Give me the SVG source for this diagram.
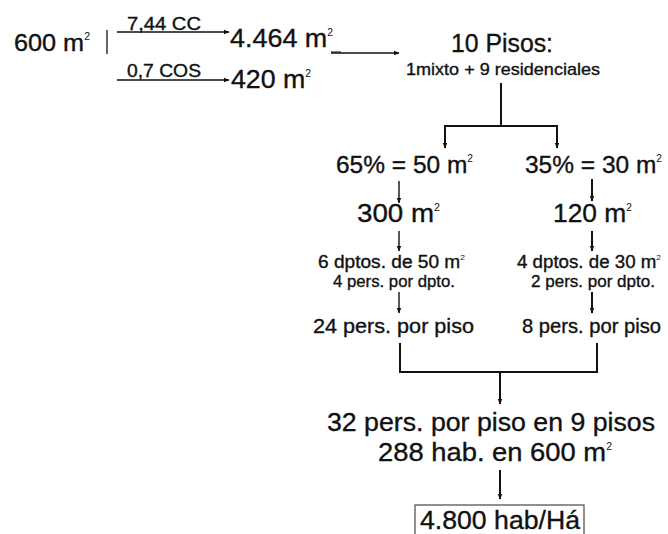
<svg xmlns="http://www.w3.org/2000/svg" width="668" height="534" viewBox="0 0 668 534">
<defs>
<style>
text{font-family:"Liberation Sans",Arial,sans-serif;fill:#111;stroke:#111;stroke-width:0.35}
.big{font-size:26px}
.mid{font-size:18px}
.sm{font-size:17px}
.s{font-size:10px;stroke-width:0}
.ss{font-size:8px;stroke-width:0}
.ln{stroke:#111;stroke-width:2;fill:none}
.thin{stroke:#111;stroke-width:1.4;fill:none}
</style>
<marker id="ah" viewBox="0 0 10 10" refX="9" refY="5" markerWidth="6" markerHeight="6" orient="auto" markerUnits="userSpaceOnUse">
<path d="M0,1 L10,5 L0,9 Z" fill="#111"/>
</marker>
</defs>
<rect width="668" height="534" fill="#fff"/>
<g id="connectors">
<line x1="107" y1="30" x2="107" y2="54" stroke="#666" stroke-width="2"/>
<line class="thin" x1="117" y1="32" x2="229" y2="32" marker-end="url(#ah)"/>
<line class="thin" x1="117" y1="80" x2="229" y2="80" marker-end="url(#ah)"/>
<line x1="331" y1="52" x2="341" y2="52" stroke="#333" stroke-width="1.2"/>
<line class="thin" x1="331" y1="53" x2="399" y2="53" marker-end="url(#ah)"/>
<polyline class="ln" points="501,83 501,126"/>
<polyline class="ln" points="445,140 445,126 557,126 557,140"/>
<line class="ln" x1="445" y1="135" x2="445" y2="148" marker-end="url(#ah)"/>
<line class="ln" x1="557" y1="135" x2="557" y2="148" marker-end="url(#ah)"/>
<line class="thin" x1="399" y1="181" x2="399" y2="203" marker-end="url(#ah)"/>
<line class="ln" x1="592" y1="179" x2="592" y2="201" marker-end="url(#ah)"/>
<line class="thin" x1="399" y1="231" x2="399" y2="251" marker-end="url(#ah)"/>
<line class="ln" x1="592" y1="231" x2="592" y2="251" marker-end="url(#ah)"/>
<line class="thin" x1="399" y1="292" x2="399" y2="313" marker-end="url(#ah)"/>
<line class="ln" x1="592" y1="292" x2="592" y2="313" marker-end="url(#ah)"/>
<polyline class="ln" points="400,343 400,372 597,372 597,343"/>
<line class="ln" x1="500" y1="372" x2="500" y2="404" marker-end="url(#ah)"/>
<line class="ln" x1="500" y1="470" x2="500" y2="499" marker-end="url(#ah)"/>
</g>
<g id="n-600"><text class="big" x="14" y="51" style="font-size:24px" textLength="76" lengthAdjust="spacingAndGlyphs">600 m<tspan class="s" dy="-11">2</tspan></text></g>
<g id="lbl-cc"><text class="mid" x="127" y="30" textLength="74" lengthAdjust="spacingAndGlyphs">7,44 CC</text></g>
<g id="lbl-cos"><text class="mid" x="127" y="77" textLength="74" lengthAdjust="spacingAndGlyphs">0,7 COS</text></g>
<g id="n-4464"><text class="big" x="230" y="47" textLength="103" lengthAdjust="spacingAndGlyphs">4.464 m<tspan class="s" dy="-11">2</tspan></text></g>
<g id="n-420"><text class="big" x="231" y="88" textLength="80" lengthAdjust="spacingAndGlyphs">420 m<tspan class="s" dy="-11">2</tspan></text></g>
<g id="n-pisos"><text class="big" x="451" y="52" textLength="102" lengthAdjust="spacingAndGlyphs">10 Pisos:</text><text class="sm" x="406" y="75" textLength="194" lengthAdjust="spacingAndGlyphs">1mixto + 9 residenciales</text></g>
<g id="n-65"><text class="big" x="336" y="173" style="font-size:24px" textLength="137" lengthAdjust="spacingAndGlyphs">65% = 50 m<tspan class="s" dy="-11">2</tspan></text></g>
<g id="n-35"><text class="big" x="525" y="173" style="font-size:24px" textLength="137" lengthAdjust="spacingAndGlyphs">35% = 30 m<tspan class="s" dy="-11">2</tspan></text></g>
<g id="n-300"><text class="big" x="357" y="222" textLength="83" lengthAdjust="spacingAndGlyphs">300 m<tspan class="s" dy="-11">2</tspan></text></g>
<g id="n-120"><text class="big" x="553" y="222" textLength="79" lengthAdjust="spacingAndGlyphs">120 m<tspan class="s" dy="-11">2</tspan></text></g>
<g id="n-6dptos"><text class="mid" x="318" y="268" textLength="147" lengthAdjust="spacingAndGlyphs">6 dptos. de 50 m<tspan class="ss" dy="-8">2</tspan></text><text class="sm" x="333" y="287" textLength="122" lengthAdjust="spacingAndGlyphs">4 pers. por dpto.</text></g>
<g id="n-4dptos"><text class="mid" x="517" y="268" textLength="144" lengthAdjust="spacingAndGlyphs">4 dptos. de 30 m<tspan class="ss" dy="-8">2</tspan></text><text class="sm" x="531" y="287" textLength="124" lengthAdjust="spacingAndGlyphs">2 pers. por dpto.</text></g>
<g id="n-24"><text x="313" y="333" style="font-size:21px" textLength="161" lengthAdjust="spacingAndGlyphs">24 pers. por piso</text></g>
<g id="n-8"><text x="522" y="333" style="font-size:20px" textLength="139" lengthAdjust="spacingAndGlyphs">8 pers. por piso</text></g>
<g id="n-32"><text class="big" x="327" y="431" textLength="328" lengthAdjust="spacingAndGlyphs">32 pers. por piso en 9 pisos</text><text class="big" x="378" y="461" textLength="234" lengthAdjust="spacingAndGlyphs">288 hab. en 600 m<tspan class="s" dy="-11">2</tspan></text></g>
<g id="n-result"><rect x="415" y="505" width="169" height="32" fill="none" stroke="#555" stroke-width="1.3"/><text class="big" x="420" y="529" textLength="160" lengthAdjust="spacingAndGlyphs">4.800 hab/Há</text></g>
</svg>
